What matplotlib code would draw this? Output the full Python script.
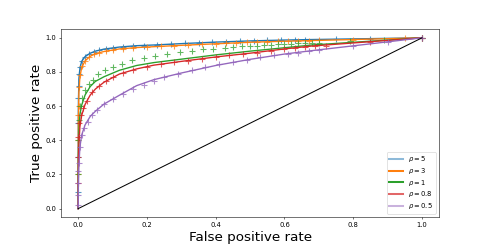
import matplotlib
matplotlib.use("Agg")
import matplotlib.pyplot as plt

# legend labels and colours (tab10 defaults)
labels = [r"$\rho = 5$", r"$\rho = 3$", r"$\rho = 1$", r"$\rho = 0.8$", r"$\rho = 0.5$"]
colors = ["tab:blue", "tab:orange", "tab:green", "tab:red", "tab:purple"]

# theoretical ROC curves
line_x = [0, 0.0005, 0.002, 0.005, 0.01, 0.02, 0.035, 0.05, 0.075, 0.12, 0.17, 0.22,
          0.3, 0.4, 0.5, 0.6, 0.68, 1.0]
line_y5 = [0, 0.60, 0.76, 0.82, 0.862, 0.89, 0.91, 0.922, 0.934, 0.946, 0.954, 0.958,
           0.966, 0.975, 0.982, 0.987, 0.99, 1.0]
line_y3 = [0, 0.50, 0.68, 0.77, 0.825, 0.865, 0.892, 0.907, 0.92, 0.935, 0.943, 0.948,
           0.956, 0.965, 0.974, 0.98, 0.984, 1.0]
line_y1 = [0, 0.30, 0.45, 0.55, 0.605, 0.665, 0.715, 0.745, 0.772, 0.81, 0.838, 0.855,
           0.875, 0.9, 0.922, 0.942, 0.958, 1.0]
line_y08 = [0, 0.25, 0.38, 0.48, 0.545, 0.61, 0.665, 0.70, 0.74, 0.788, 0.818, 0.84,
            0.862, 0.888, 0.91, 0.935, 0.952, 1.0]
line_y05 = [0, 0.12, 0.25, 0.36, 0.43, 0.49, 0.54, 0.57, 0.612, 0.664, 0.72, 0.755,
            0.794, 0.838, 0.874, 0.905, 0.925, 1.0]

# empirical points
pts_x5 = [0, 0, 0, 0, 0.001, 0.003, 0.006, 0.012, 0.02, 0.032, 0.045, 0.06, 0.08, 0.1, 0.13,
          0.16, 0.19, 0.23, 0.27, 0.31, 0.35, 0.39, 0.43, 0.47, 0.51, 0.55, 0.59, 0.63, 0.66,
          0.75, 0.85, 1.0]
pts_y5 = [0.1, 0.3, 0.5, 0.65, 0.72, 0.79, 0.83, 0.865, 0.89, 0.906, 0.918, 0.927, 0.935, 0.941,
          0.947, 0.952, 0.955, 0.959, 0.964, 0.968, 0.972, 0.975, 0.978, 0.981, 0.983, 0.985,
          0.987, 0.989, 0.99, 0.993, 0.996, 1.0]
pts_x3 = [0, 0, 0, 0.001, 0.003, 0.006, 0.012, 0.02, 0.032, 0.045, 0.06, 0.08, 0.1, 0.13, 0.16,
          0.2, 0.24, 0.28, 0.32, 0.36, 0.4, 0.43, 0.46, 0.49, 0.52, 0.55, 0.58, 0.61, 0.64, 0.67,
          0.7, 0.8, 0.95, 1.0]
pts_y3 = [0.2, 0.4, 0.55, 0.6, 0.71, 0.78, 0.835, 0.865, 0.888, 0.903, 0.912, 0.922, 0.93, 0.937,
          0.942, 0.946, 0.95, 0.955, 0.958, 0.962, 0.965, 0.968, 0.971, 0.974, 0.975, 0.977,
          0.979, 0.981, 0.982, 0.984, 0.985, 0.99, 0.997, 1.0]
pts_x1 = [0, 0, 0.002, 0.006, 0.012, 0.02, 0.03, 0.044, 0.059, 0.078, 0.102, 0.127, 0.156, 0.19,
          0.224, 0.258, 0.296, 0.33, 0.364, 0.393, 0.427, 0.451, 0.476, 0.5, 0.52, 0.54, 0.56,
          0.58, 0.6, 0.62, 0.64, 0.66, 0.68, 0.7, 0.79, 0.89, 1.0]
pts_y1 = [0.2, 0.4, 0.52, 0.6, 0.65, 0.693, 0.728, 0.755, 0.787, 0.81, 0.829, 0.849, 0.868,
          0.884, 0.894, 0.908, 0.916, 0.923, 0.933, 0.937, 0.943, 0.946, 0.95, 0.952, 0.955,
          0.957, 0.959, 0.961, 0.963, 0.965, 0.967, 0.969, 0.971, 0.972, 0.98, 0.99, 1.0]
pts_x08 = [0, 0, 0, 0.003, 0.008, 0.015, 0.025, 0.04, 0.06, 0.08, 0.1, 0.13, 0.16, 0.2, 0.24,
           0.28, 0.32, 0.36, 0.4, 0.44, 0.48, 0.52, 0.56, 0.6, 0.63, 0.66, 0.69, 0.72, 0.85, 1.0]
pts_y08 = [0.15, 0.3, 0.42, 0.5, 0.55, 0.59, 0.63, 0.685, 0.72, 0.75, 0.77, 0.795, 0.813, 0.832,
           0.847, 0.858, 0.867, 0.876, 0.888, 0.9, 0.908, 0.914, 0.922, 0.933, 0.94, 0.948,
           0.953, 0.955, 0.975, 1.0]
pts_x05 = [0, 0, 0, 0, 0.002, 0.005, 0.01, 0.018, 0.028, 0.04, 0.055, 0.075, 0.1, 0.13, 0.16,
           0.19, 0.22, 0.25, 0.29, 0.33, 0.37, 0.41, 0.45, 0.49, 0.53, 0.57, 0.61, 0.64, 0.67,
           0.7, 0.8, 0.9, 1.0]
pts_y05 = [0.02, 0.08, 0.15, 0.22, 0.27, 0.36, 0.43, 0.47, 0.51, 0.55, 0.58, 0.612, 0.64, 0.672,
           0.7, 0.725, 0.75, 0.77, 0.79, 0.81, 0.83, 0.846, 0.86, 0.873, 0.885, 0.897, 0.908,
           0.914, 0.921, 0.926, 0.95, 0.975, 1.0]

lines_y = [line_y5, line_y3, line_y1, line_y08, line_y05]
pts_x = [pts_x5, pts_x3, pts_x1, pts_x08, pts_x05]
pts_y = [pts_y5, pts_y3, pts_y1, pts_y08, pts_y05]
legend_alpha = [0.5, 1.0, 1.0, 0.7, 0.5]

fig, ax = plt.subplots(figsize=(10, 5), dpi=48.8)

for i in range(len(labels)):
    ax.plot(line_x, lines_y[i], color=colors[i], lw=2, label=labels[i])
    ax.plot(pts_x[i], pts_y[i], "+", color=colors[i], alpha=0.75, ms=8, mew=1.6)

ax.plot([0, 1], [0, 1], color="black", lw=1.5)

ax.set_xlabel("False positive rate", fontsize=20)
ax.set_ylabel("True positive rate", fontsize=20)

leg = ax.legend(loc="lower right", labelspacing=0.25)
for ln, a in zip(leg.get_lines(), legend_alpha):
    ln.set_linewidth(3)
    ln.set_alpha(a)

fig.savefig("out.png", dpi=48.8)
